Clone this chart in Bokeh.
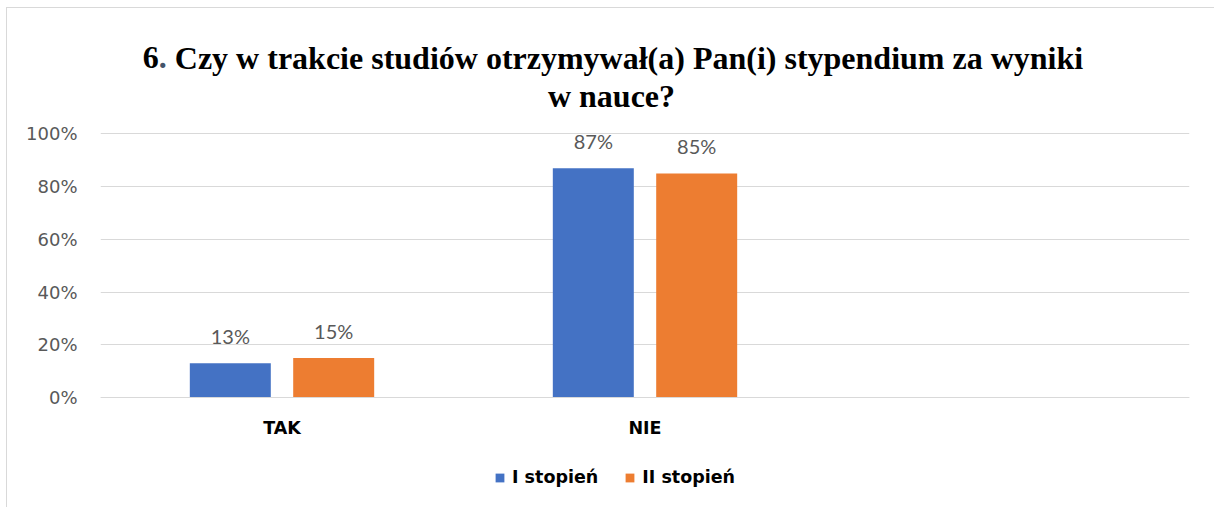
from bokeh.plotting import figure
from bokeh.models import (ColumnDataSource, Range1d, FixedTicker, NumeralTickFormatter,
                          Label, Legend, LegendItem)
from bokeh.transform import dodge
from bokeh.core.properties import value
from bokeh.embed import file_html
from bokeh.resources import INLINE

# ---- data ----
categories = ["TAK", "NIE"]
i_stopien = [0.13, 0.87]
ii_stopien = [0.15, 0.85]
series_names = ["I stopień", "II stopień"]
y_ticks = [0, 0.2, 0.4, 0.6, 0.8, 1.0]
title_num = "6"
title_dot = "."
title_line1 = "Czy w trakcie studiów otrzymywał(a) Pan(i) stypendium za wyniki"
title_line2 = "w nauce?"

BLUE = "#4472C4"
ORANGE = "#ED7D31"
GRID = "#d9d9d9"
LABEL_GRAY = "#595959"
SERIF = "'Liberation Serif', 'Times New Roman', serif"

# ---- layout geometry (page pixels) ----
FIG_X, FIG_Y = 7, 8            # content origin (after margin + 1px border)
W, H = 1208, 500
FRAME_L, FRAME_R = 100, 1189
Y0_PX, Y_PX_PER_UNIT = 397.0, 263.6
X0_PX, X_PX_PER_UNIT = 281.5, 363.0


def xd(px):
    return (px - X0_PX) / X_PX_PER_UNIT


def yd(py):
    return (Y0_PX - py) / Y_PX_PER_UNIT


x_pos = list(range(len(categories)))
src = ColumnDataSource(dict(
    x=x_pos,
    a=i_stopien,
    b=ii_stopien,
    la=[f"{round(v * 100)}%" for v in i_stopien],
    lb=[f"{round(v * 100)}%" for v in ii_stopien],
))

p = figure(width=W, height=H,
           x_range=Range1d(-0.5, 2.5),
           y_range=Range1d(yd(FIG_Y + H), yd(FIG_Y)),
           output_backend="svg", toolbar_location=None,
           min_border_left=FRAME_L - FIG_X, min_border_right=FIG_X + W - FRAME_R,
           min_border_top=0, min_border_bottom=0,
           margin=(7, 0, 0, 6))
p.outline_line_color = None
p.background_fill_color = "white"
p.border_fill_color = "white"
p.styles = {"border-left": "1px solid #d9d9d9", "border-top": "1px solid #d9d9d9"}

OFF = 0.1424
BW = 0.2231

r1 = p.vbar(x=dodge("x", -OFF, range=p.x_range), top="a", width=BW, source=src,
            fill_color=BLUE, line_color=None)
r2 = p.vbar(x=dodge("x", OFF, range=p.x_range), top="b", width=BW, source=src,
            fill_color=ORANGE, line_color=None)

for col, off in (("a", -OFF), ("b", OFF)):
    p.text(x=dodge("x", off, range=p.x_range), y=col, text="l" + col, source=src,
           text_align="center", text_baseline="alphabetic", y_offset=-27,
           text_font=value("Lato"), text_font_size="20px", text_color=LABEL_GRAY)

# axes
p.xgrid.visible = False
p.ygrid.grid_line_color = GRID
p.ygrid.grid_line_width = 1
p.ygrid.ticker = FixedTicker(ticks=y_ticks)

p.yaxis.ticker = FixedTicker(ticks=y_ticks)
p.yaxis.formatter = NumeralTickFormatter(format="0%")
p.yaxis.axis_line_color = None
p.yaxis.major_tick_line_color = None
p.yaxis.minor_tick_line_color = None
p.yaxis.major_label_standoff = 17
p.yaxis.major_label_text_font = "DejaVu Sans"
p.yaxis.major_label_text_font_size = "18px"
p.yaxis.major_label_text_color = LABEL_GRAY

p.xaxis.fixed_location = 0
p.xaxis.ticker = FixedTicker(ticks=x_pos)
p.xaxis.major_label_overrides = {i: c for i, c in enumerate(categories)}
p.xaxis.axis_line_color = GRID
p.xaxis.axis_line_width = 1
p.xaxis.major_tick_line_color = None
p.xaxis.minor_tick_line_color = None
p.xaxis.major_label_standoff = 14
p.xaxis.major_label_text_font = "DejaVu Sans"
p.xaxis.major_label_text_font_style = "bold"
p.xaxis.major_label_text_font_size = "17.5px"
p.xaxis.major_label_text_color = "black"

# title (two lines, blue dot after number)
tkw = dict(text_font=SERIF, text_font_style="bold", text_font_size="32px",
           text_baseline="alphabetic", x_units="data", y_units="data")
p.add_layout(Label(x=xd(142.3), y=yd(57), text=title_num, text_align="left",
                   text_color="black", **tkw))
p.add_layout(Label(x=xd(158.3), y=yd(57), text=title_dot, text_align="left",
                   text_color="#44546A", **tkw))
p.add_layout(Label(x=xd(174.3), y=yd(57), text=title_line1, text_align="left",
                   text_color="black", **tkw))
p.add_layout(Label(x=xd(611), y=yd(95), text=title_line2, text_align="center",
                   text_color="black", **tkw))

legend = Legend(items=[LegendItem(label=series_names[0], renderers=[r1]),
                       LegendItem(label=series_names[1], renderers=[r2])],
                orientation="horizontal", location=(494 - FRAME_L, FIG_Y + H - 487),
                glyph_width=11, glyph_height=11, label_standoff=7, spacing=26,
                padding=0, margin=0, border_line_color=None, background_fill_alpha=0,
                label_text_font="DejaVu Sans", label_text_font_style="bold",
                label_text_font_size="17.5px", label_text_color="black")
p.add_layout(legend)

open("out.html", "w").write(file_html(p, INLINE))
